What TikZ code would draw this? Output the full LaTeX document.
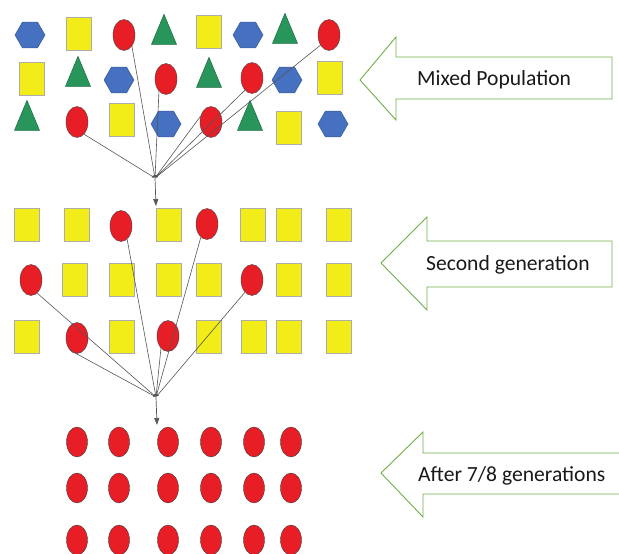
\documentclass[tikz,border=0pt]{standalone}
\usepackage{fontspec}
\setmainfont{Carlito}
\usetikzlibrary{shapes.geometric,arrows.meta}
\definecolor{hexblue}{RGB}{70,112,192}
\definecolor{sqyellow}{RGB}{242,236,24}
\definecolor{redc}{RGB}{232,30,38}
\definecolor{trigreen}{RGB}{40,150,90}
\definecolor{linkgray}{RGB}{85,85,85}
\definecolor{arrowgreen}{RGB}{112,173,71}
\begin{document}
\begin{tikzpicture}[x=1pt,y=-1pt,
  hexa/.style={regular polygon, regular polygon sides=6, minimum size=30pt, inner sep=0pt, fill=hexblue, draw=hexblue!80!black, line width=0.5pt},
  sq/.style={rectangle, minimum width=25pt, minimum height=33pt, inner sep=0pt, fill=sqyellow, draw=gray!65, line width=0.7pt},
  ell/.style={ellipse, minimum width=22pt, minimum height=31pt, inner sep=0pt, fill=redc, draw=gray!50!black, line width=0.4pt},
  tri/.style={isosceles triangle, isosceles triangle stretches, shape border rotate=90, minimum width=25pt, minimum height=30pt, inner sep=0pt, fill=trigreen, draw=trigreen!70!black, line width=0.5pt},
  link/.style={draw=linkgray, line width=0.6pt, -{Latex[length=3pt,width=2.5pt]}},
  mainlink/.style={draw=linkgray, line width=0.7pt, -{Triangle[length=7pt,width=5pt]}},
  blockarrow/.style={draw=arrowgreen, line width=0.9pt, line join=miter},
  lbl/.style={font=\fontsize{21.6}{25}\selectfont, anchor=base west, inner sep=0pt, text=black!90}
]
\useasboundingbox (0,0) rectangle (619,554);
\clip (0,0) rectangle (619,554);

% ---------- Mixed population ----------
\node[hexa] (t11) at (30,35) {};
\node[sq]   (t12) at (79,34) {};
\node[ell]  (t13) at (124,35) {};
\node[tri]  (t14) at (164,36) {};
\node[sq]   (t15) at (209,32) {};
\node[hexa] (t16) at (248,35) {};
\node[tri]  (t17) at (285,35) {};
\node[ell]  (t18) at (329,35) {};

\node[sq]   (t21) at (32,79) {};
\node[tri]  (t22) at (78,78) {};
\node[hexa] (t23) at (119,80) {};
\node[ell]  (t24) at (166,79) {};
\node[tri]  (t25) at (209,79) {};
\node[ell]  (t26) at (252,78) {};
\node[hexa] (t27) at (287,80) {};
\node[sq]   (t28) at (330,78) {};

\node[tri]  (t31) at (27,122) {};
\node[ell]  (t32) at (77,122) {};
\node[sq]   (t33) at (122,120) {};
\node[hexa] (t34) at (166,124) {};
\node[ell]  (t35) at (211,122) {};
\node[tri]  (t36) at (250,122) {};
\node[sq]   (t37) at (289,128) {};
\node[hexa] (t38) at (333,124) {};

\coordinate (c1) at (155,178);
\draw[link] (t13.south east) -- (c1);
\draw[link] (t24.-120) -- (c1);
\draw[link] (t32.-60) -- (c1);
\draw[link] (t35.150) -- (c1);
\draw[link] (t26.-120) -- (c1);
\draw[link] (t18.-130) -- (c1);

% ---------- Second generation ----------
\node[sq]  (m11) at (27,225) {};
\node[sq]  (m12) at (77,225) {};
\node[ell] (m13) at (121,226) {};
\node[sq]  (m14) at (169,225) {};
\node[ell] (m15) at (207,224) {};
\node[sq]  (m16) at (253,225) {};
\node[sq]  (m17) at (289,225) {};
\node[sq]  (m18) at (339,225) {};

\node[ell] (m21) at (31,280) {};
\node[sq]  (m22) at (75,280) {};
\node[sq]  (m23) at (122,280) {};
\node[sq]  (m24) at (169,280) {};
\node[sq]  (m25) at (209,280) {};
\node[ell] (m26) at (252,280) {};
\node[sq]  (m27) at (289,280) {};
\node[sq]  (m28) at (339,280) {};

\node[sq]  (m31) at (27,337) {};
\node[ell] (m32) at (77,338) {};
\node[sq]  (m33) at (122,337) {};
\node[ell] (m34) at (168,336) {};
\node[sq]  (m35) at (209,337) {};
\node[sq]  (m36) at (254,337) {};
\node[sq]  (m37) at (289,337) {};
\node[sq]  (m38) at (339,337) {};

\coordinate (m0) at (156,206);
\draw[mainlink] (c1) -- (m0);

\coordinate (c2) at (156,397);
\draw[link] (m13.-65) -- (c2);
\draw[link] (m15.-115) -- (c2);
\draw[link] (m21.-65) -- (c2);
\draw[link] (m26.-120) -- (c2);
\draw[link] (m32.-120) -- (c2);
\draw[link] (m34.-120) -- (c2);

% ---------- After 7/8 generations ----------
\foreach \r/\yy in {1/442,2/488,3/540}{
  \foreach \c/\xx in {1/77,2/119,3/168,4/211,5/254,6/291}{
    \node[ell, minimum width=21pt, minimum height=30pt] (b\r\c) at (\xx,\yy) {};
  }
}
\coordinate (b0) at (157,425);
\draw[mainlink] (c2) -- (b0);

% ---------- block arrows ----------
\draw[blockarrow] (612,57) -- (396,57) -- (396,37) -- (360,80) -- (396,120) -- (396,99) -- (612,99) -- cycle;
\node[lbl] (l1) at (417,85) {Mixed Population};

\draw[blockarrow] (612,241) -- (427,241) -- (427,217) -- (381,263) -- (427,310) -- (427,287) -- (612,287) -- cycle;
\node[lbl] (l2) at (426,270) {Second generation};

\draw[blockarrow] (630,453) -- (423,453) -- (423,432) -- (381,473) -- (423,517) -- (423,494) -- (630,494);
\node[lbl] (l3) at (418,481) {After 7/8 generations};
\end{tikzpicture}
\end{document}
